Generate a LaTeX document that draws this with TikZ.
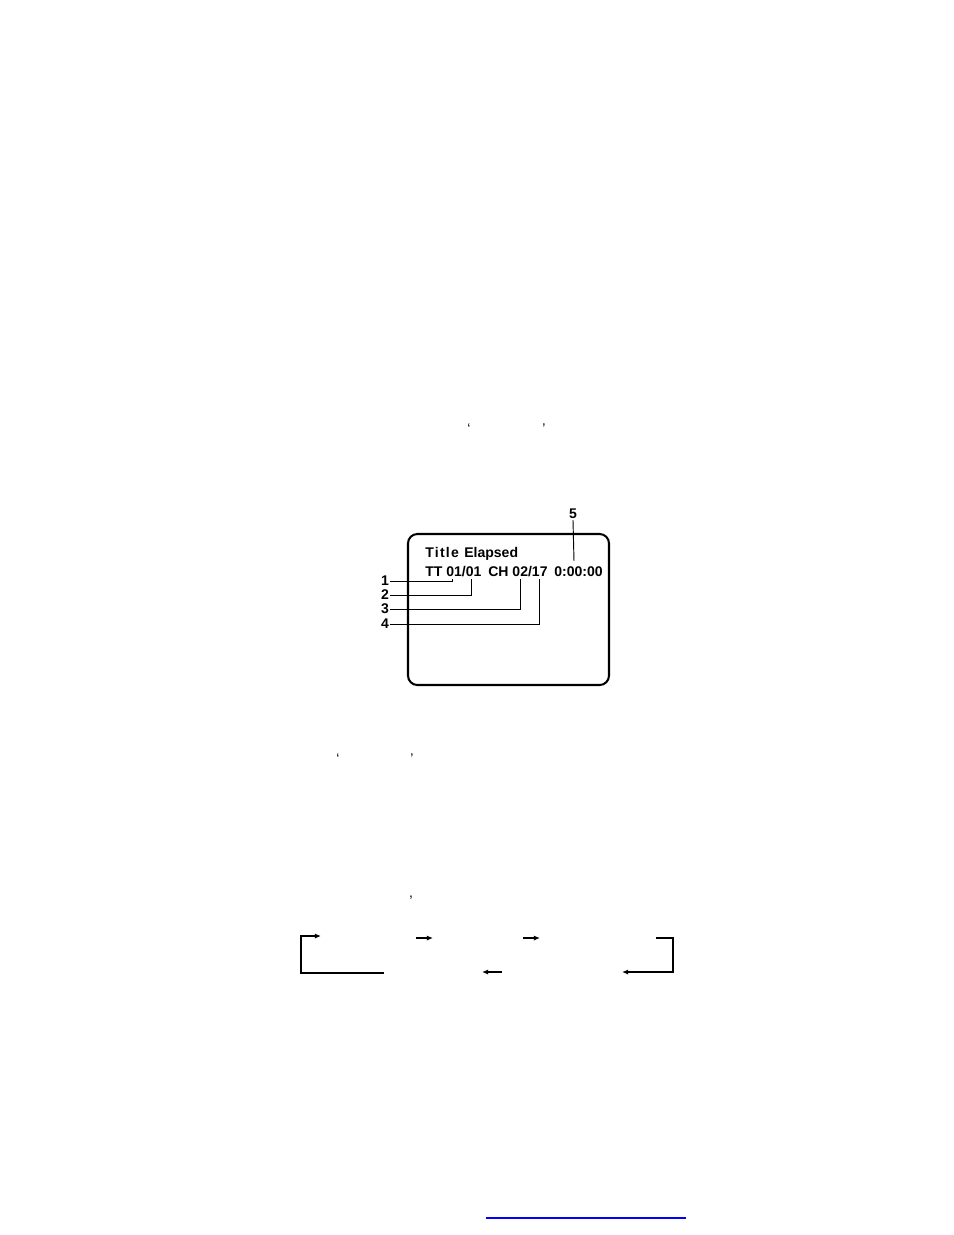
\documentclass[tikz,border=0pt]{standalone}
\usepackage{fontspec}
\setmainfont{Liberation Sans}
\usetikzlibrary{arrows.meta}
\begin{document}
\begin{tikzpicture}[x=0.6415pt, y=-0.6415pt,
  txt/.style={inner sep=0pt, anchor=base west, font=\bfseries\fontsize{9}{10}\selectfont},
  num/.style={inner sep=0.6pt, font=\bfseries\fontsize{9}{10}\selectfont},
  punct/.style={inner sep=0pt, font=\fontsize{9}{10}\selectfont},
  lead/.style={line width=0.6pt},
  flow/.style={line width=1.1pt, -{Latex[length=4pt,width=3.4pt]}}]
\useasboundingbox (0,0) rectangle (954,1235);

\node[punct] (q1) at (469,429) {‘};
\node[punct] (q2) at (544,429) {’};

\node[draw, line width=1.3pt, rounded corners=6pt, minimum width=201*0.6415pt, minimum height=151*0.6415pt] (screen) at (508.5,609.5) {};
\node[txt] (title) at (425,557) {\addfontfeature{LetterSpace=9}Title};
\node[txt] (elapsed) at (464,557) {Elapsed};
\node[txt] (tt) at (425,576) {TT 01/01};
\node[txt] (ch) at (488,576) {CH 02/17};
\node[txt] (time) at (554,576) {0:00:00};

\node[num] (n1) at (385,581) {1};
\node[num] (n2) at (385,595) {2};
\node[num] (n3) at (385,609) {3};
\node[num] (n4) at (385,624) {4};
\node[num] (n5) at (573,514) {5};

\coordinate (c1) at (452,579);
\coordinate (c2) at (471,579);
\coordinate (c3) at (520,579);
\coordinate (c4) at (539,579);
\coordinate (c5) at (574,561);

\draw[lead] (n1.east) -| (c1);
\draw[lead] (n2.east) -| (c2);
\draw[lead] (n3.east) -| (c3);
\draw[lead] (n4.east) -| (c4);
\draw[lead] (n5.south) -- (c5);

\node[punct] (q3) at (338,759) {‘};
\node[punct] (q4) at (412,759) {’};
\node[punct] (cm) at (411,898) {,};

\coordinate (a0) at (384,973);
\coordinate (a1) at (301,973);
\coordinate (a2) at (301,936);
\coordinate (a3) at (321,936);
\coordinate (b0) at (416,938);
\coordinate (b1) at (433,938);
\coordinate (d0) at (523,938);
\coordinate (d1) at (540,938);
\coordinate (e0) at (656,938);
\coordinate (e1) at (673,938);
\coordinate (e2) at (673,972);
\coordinate (e3) at (622,972);
\coordinate (g0) at (502,972);
\coordinate (g1) at (482,972);

\draw[flow] (a0) -- (a1) -- (a2) -- (a3);
\draw[flow] (b0) -- (b1);
\draw[flow] (d0) -- (d1);
\draw[flow] (e0) -- (e1) -- (e2) -- (e3);
\draw[flow] (g0) -- (g1);

\draw[blue, line width=0.8pt] (486,1218) -- (686,1218);
\end{tikzpicture}
\end{document}
